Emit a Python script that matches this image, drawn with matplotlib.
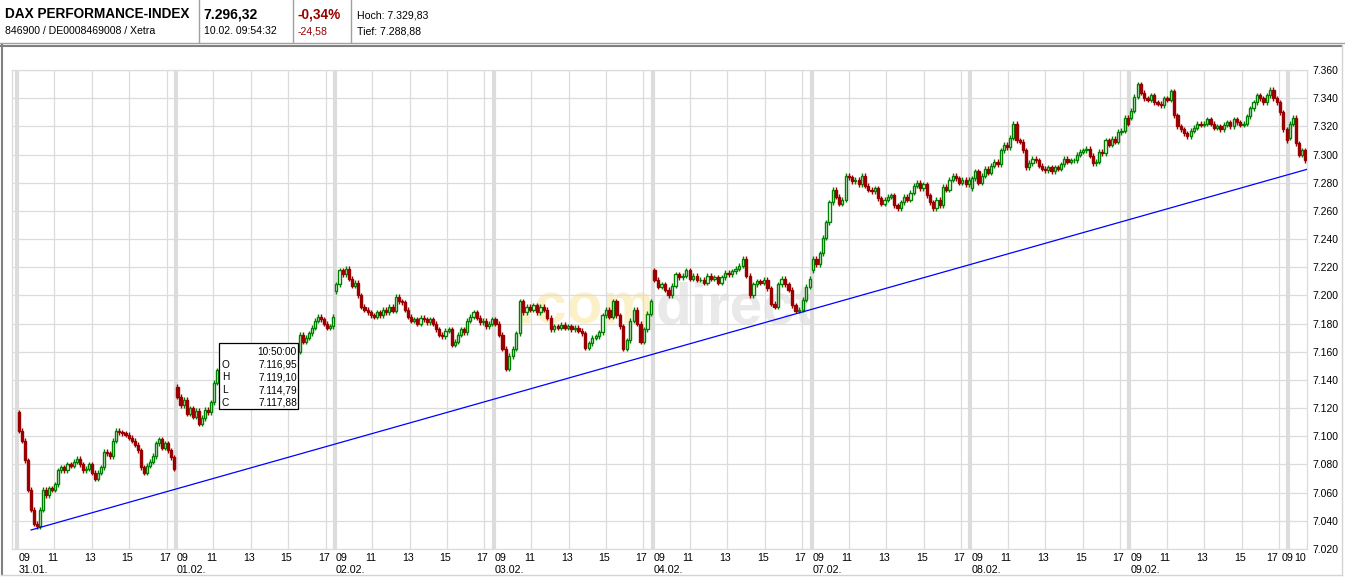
import numpy as np
import matplotlib
matplotlib.use("Agg")
import matplotlib.pyplot as plt
import matplotlib.transforms as mtransforms
from matplotlib.lines import Line2D
from matplotlib.patches import Rectangle

plt.rcParams['font.family'] = ['Liberation Sans', 'DejaVu Sans']

nan = np.nan

# one list of 10-minute closes per trading day, opens follow the previous close
day_labels = ["31.01.", "01.02.", "02.02.", "03.02.", "04.02.", "07.02.", "08.02.", "09.02.", "10.02."]
day_lengths = [8.5, 8.5, 8.5, 8.5, 8.5, 8.5, 8.5, 8.5, 1.0]
day_opens = [7117, 7135, 7203, 7183, 7218, 7218, 7276, 7326, 7312]

closes_31_01 = [7104, 7097, 7083, 7062, 7048, 7038, 7036, 7048, 7062, 7058,
                7063, 7062, 7066, 7076, 7078, 7076, 7080, 7079, 7082, 7084,
                7080, 7076, 7077, 7080, 7074, 7070, 7074, 7078, 7089, 7088,
                7086, 7097, 7104, 7103, 7102, 7101, 7099, 7097, 7094, 7090,
                7078, 7074, 7079, 7082, 7086, 7095, 7098, 7092, 7095, 7090,
                7085, 7077]
# candles hidden behind the info box are left out
closes_01_02 = [7128, 7122, 7126, 7116, 7120, 7114, 7118, 7109, 7113, 7119,
                7117, 7124, 7138, 7147] + [nan] * 24 + \
               [7155, 7160, 7172, 7167, 7170, 7173, 7177, 7182, 7185, 7183,
                7180, 7177, 7178, 7185]
closes_02_02 = [7208, 7218, 7215, 7219, 7212, 7207, 7209, 7200, 7192, 7190,
                7188, 7186, 7185, 7188, 7186, 7190, 7188, 7192, 7189, 7199,
                7196, 7195, 7190, 7185, 7182, 7183, 7180, 7184, 7183, 7181,
                7183, 7180, 7176, 7172, 7171, 7175, 7176, 7165, 7167, 7172,
                7176, 7174, 7182, 7185, 7188, 7184, 7181, 7182, 7178, 7180,
                7183]
closes_03_02 = [7180, 7172, 7162, 7148, 7157, 7162, 7173, 7196, 7188, 7192,
                7190, 7193, 7188, 7192, 7190, 7184, 7176, 7178, 7177, 7179,
                7177, 7178, 7176, 7177, 7175, 7173, 7163, 7166, 7170, 7171,
                7174, 7186, 7190, 7185, 7196, 7186, 7178, 7162, 7168, 7182,
                7190, 7180, 7167, 7176, 7187, 7196]
closes_04_02 = [7211, 7206, 7208, 7204, 7200, 7207, 7215, 7213, 7214, 7218,
                7212, 7214, 7211, 7211, 7209, 7214, 7212, 7213, 7209, 7213,
                7216, 7215, 7217, 7219, 7221, 7226, 7214, 7200, 7208, 7210,
                7209, 7211, 7205, 7194, 7192, 7208, 7212, 7208, 7204, 7193,
                7189, 7190, 7197, 7206, 7212]
closes_07_02 = [7226, 7222, 7230, 7241, 7252, 7266, 7275, 7270, 7265, 7268,
                7285, 7284, 7281, 7282, 7279, 7285, 7278, 7275, 7274, 7276,
                7269, 7265, 7268, 7270, 7271, 7264, 7262, 7266, 7270, 7268,
                7273, 7278, 7280, 7276, 7279, 7271, 7266, 7262, 7268, 7264,
                7277, 7275, 7282, 7285, 7283, 7280, 7282, 7279, 7282]
closes_08_02 = [7283, 7288, 7280, 7285, 7290, 7287, 7292, 7295, 7293, 7303,
                7307, 7305, 7312, 7322, 7310, 7309, 7303, 7291, 7294, 7297,
                7296, 7292, 7290, 7289, 7291, 7288, 7291, 7290, 7293, 7297,
                7295, 7296, 7296, 7300, 7302, 7303, 7304, 7299, 7294, 7295,
                7302, 7301, 7310, 7307, 7311, 7309, 7316, 7317, 7326, 7322]
closes_09_02 = [7331, 7341, 7350, 7344, 7340, 7339, 7342, 7337, 7336, 7335,
                7340, 7339, 7345, 7328, 7320, 7318, 7315, 7313, 7317, 7319,
                7322, 7321, 7322, 7325, 7322, 7319, 7320, 7318, 7321, 7323,
                7320, 7325, 7323, 7321, 7322, 7327, 7333, 7337, 7342, 7340,
                7337, 7342, 7346, 7340, 7337, 7330, 7318, 7310]
closes_10_02 = [7322, 7326, 7308, 7300, 7303, 7296]

all_closes = [closes_31_01, closes_01_02, closes_02_02, closes_03_02, closes_04_02,
              closes_07_02, closes_08_02, closes_09_02, closes_10_02]

hour_ticks = [2, 4, 6, 8]
hour_labels = ["11", "13", "15", "17"]
y_ticks = list(range(7020, 7361, 20))

trend_hours = [0.75, 69.0]
trend_values = [7033.5, 7289.5]

W, H = 1345, 578
fig = plt.figure(figsize=(W / 100, H / 100), dpi=100)


def fx(x):
    return x / W


def fy(y):
    return 1 - y / H


ax = fig.add_axes([fx(12), fy(549), 1295 / W, 479 / H])
ax.set_xlim(-0.27, 69.0)
ax.set_ylim(7020, 7360)

grid_c = '#dcdcdc'
for v in y_ticks:
    ax.axhline(v, color=grid_c, lw=0.9, zorder=1)
for d in range(9):
    ax.axvline(d * 8.5, color=grid_c, lw=3, zorder=1)
    if d < 8:
        for hh in hour_ticks:
            ax.axvline(d * 8.5 + hh, color=grid_c, lw=0.9, zorder=1)

# watermark
ax.text(fx(654), fy(324), ".com", transform=fig.transFigure, ha='right', va='baseline',
        fontsize=42, fontweight='bold', color='#fcf0c8', zorder=0.5)
ax.text(fx(656), fy(324), "direct", transform=fig.transFigure, ha='left', va='baseline',
        fontsize=42, fontweight='bold', color='#e9e9e9', zorder=0.5)

green = '#008000'
red = '#990000'
for d, closes in enumerate(all_closes):
    c = np.array(closes, dtype=float)
    n = len(c)
    step = day_lengths[d] / n
    xs = d * 8.5 + (np.arange(n) + 0.5) * step
    o = np.concatenate([[day_opens[d]], c[:-1]])
    ok = ~np.isnan(o) & ~np.isnan(c)
    up = ok & (c >= o)
    dn = ok & (c < o)
    hi = np.fmax(o, c) + 1.8
    lo = np.fmin(o, c) - 1.8
    w = step * 0.68
    ax.vlines(xs[up], lo[up], hi[up], color=green, lw=1.0, zorder=3)
    ax.bar(xs[up], (c - o)[up], bottom=o[up], width=w, facecolor='white',
           edgecolor=green, lw=1.0, zorder=4)
    ax.vlines(xs[dn], lo[dn], hi[dn], color=red, lw=1.0, zorder=3)
    ax.bar(xs[dn], (c - o)[dn], bottom=o[dn], width=w, facecolor=red,
           edgecolor=red, lw=1.0, zorder=4)

ax.plot(trend_hours, trend_values, color='#0000ff', lw=0.9, zorder=5)

for s in ax.spines.values():
    s.set_color(grid_c)
    s.set_linewidth(0.9)
ax.set_xticks([])
ax.yaxis.tick_right()
ax.set_yticks(y_ticks)
ax.set_yticklabels([f"{v // 1000}.{v % 1000:03d}" for v in y_ticks])
ax.tick_params(axis='y', length=0, pad=4, labelsize=7.5)

# time axis labels
blend = mtransforms.blended_transform_factory(ax.transData, fig.transFigure)
for d in range(8):
    x0 = d * 8.5
    fig.text(x0 + 0.06, fy(561), "09", transform=blend, ha='left', va='baseline', fontsize=7.7)
    for hh, lab in zip(hour_ticks, hour_labels):
        shift = 0.1 if hh < 8 or d < 7 else 0.35
        fig.text(x0 + hh - shift, fy(561), lab, transform=blend, ha='center', va='baseline', fontsize=7.7)
    fig.text(x0 + 0.06, fy(573), day_labels[d], transform=blend, ha='left', va='baseline', fontsize=7.7)
fig.text(fx(1293), fy(561), "09", ha='right', va='baseline', fontsize=7.7)
fig.text(fx(1306), fy(561), "10", ha='right', va='baseline', fontsize=7.7)

# info box
fig.add_artist(Rectangle((fx(219), fy(409)), 79 / W, 66 / H, transform=fig.transFigure,
                         facecolor='white', edgecolor='black', lw=0.9, zorder=10))
box_rows = [("", "10:50:00"), ("O", "7.116,95"), ("H", "7.119,10"), ("L", "7.114,79"), ("C", "7.117,88")]
for k, (a, b) in enumerate(box_rows):
    yb = fy(355 + k * 12.7)
    fig.text(fx(222), yb, a, ha='left', va='baseline', fontsize=7.3, zorder=11)
    fig.text(fx(297), yb, b, ha='right', va='baseline', fontsize=7.3, zorder=11)

# header
fig.text(fx(5), fy(18.3), "DAX PERFORMANCE-INDEX", fontsize=9.8, fontweight='bold', va='baseline')
fig.text(fx(5), fy(34.3), "846900 / DE0008469008 / Xetra", fontsize=7.6, va='baseline')
fig.text(fx(203), fy(18.3), "7.296,32", fontsize=10, fontweight='bold', va='baseline')
fig.text(fx(204), fy(34.3), "10.02. 09:54:32", fontsize=7.6, va='baseline')
fig.text(fx(298), fy(18.3), "-0,34%", fontsize=9.8, fontweight='bold', va='baseline', color=red)
fig.text(fx(298), fy(34.3), "-24,58", fontsize=7.6, va='baseline', color=red)
fig.text(fx(357), fy(18.3), "Hoch: 7.329,83", fontsize=7.6, va='baseline')
fig.text(fx(357), fy(34.3), "Tief: 7.288,88", fontsize=7.6, va='baseline')

sep_c = '#a0a0a0'
for xs_ in [199, 293, 351]:
    fig.add_artist(Line2D([fx(xs_), fx(xs_)], [fy(0), fy(42)], transform=fig.transFigure, color=sep_c, lw=1))
fig.add_artist(Line2D([0, 1], [fy(42.5), fy(42.5)], transform=fig.transFigure, color=sep_c, lw=1))

# outer frame
dark = '#808080'
light = '#d4d4d4'
fig.add_artist(Line2D([fx(1), fx(1341)], [fy(45.5), fy(45.5)], transform=fig.transFigure, color=dark, lw=1.5))
fig.add_artist(Line2D([fx(1.5), fx(1.5)], [fy(45), fy(575)], transform=fig.transFigure, color=dark, lw=1.5))
fig.add_artist(Line2D([fx(1), fx(1342)], [fy(574.5), fy(574.5)], transform=fig.transFigure, color=light, lw=1))
fig.add_artist(Line2D([fx(1341.5), fx(1341.5)], [fy(45), fy(575)], transform=fig.transFigure, color=light, lw=1))

fig.savefig("out.png", dpi=100)
